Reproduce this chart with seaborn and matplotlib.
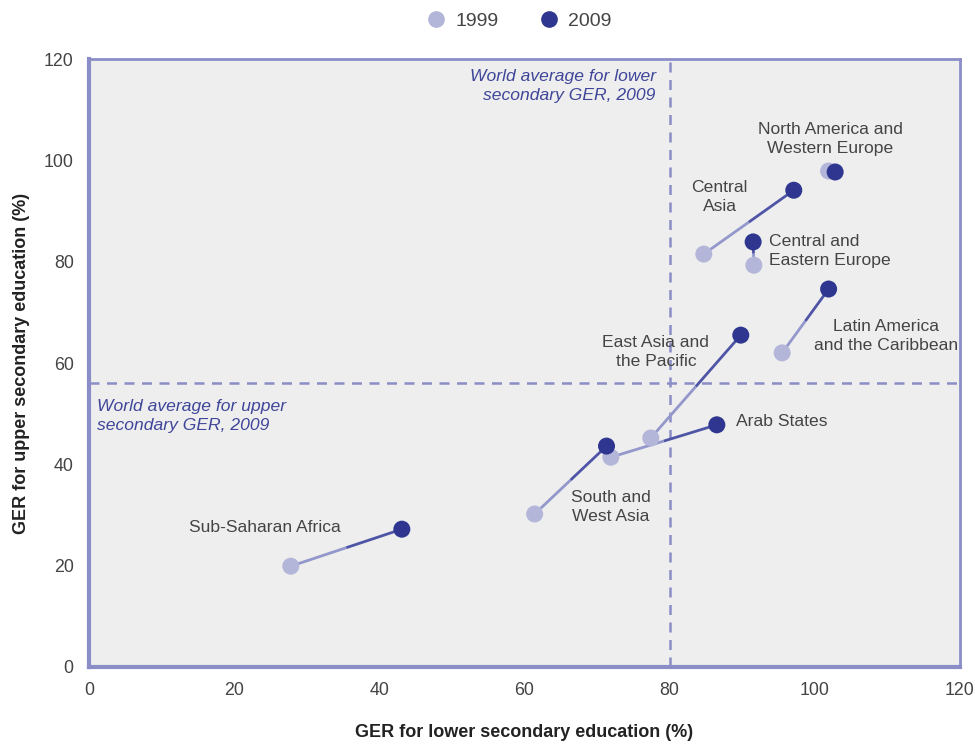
import numpy as np
import pandas as pd
import seaborn as sns
from matplotlib import pyplot as plt

# GER values
regions = ["Sub-Saharan Africa", "South and West Asia", "Arab States",
           "East Asia and the Pacific", "Latin America and the Caribbean",
           "Central and Eastern Europe", "Central Asia",
           "North America and Western Europe"]
lower_1999 = [27.8, 61.4, 71.9, 77.4, 95.5, 91.6, 84.7, 101.9]
upper_1999 = [19.9, 30.2, 41.4, 45.2, 62.0, 79.3, 81.5, 97.9]
lower_2009 = [43.1, 71.3, 86.5, 89.8, 101.9, 91.5, 97.1, 102.8]
upper_2009 = [27.2, 43.6, 47.8, 65.5, 74.6, 83.9, 94.1, 97.7]
world_lower_2009 = 80.0
world_upper_2009 = 56.0

# label text and placement per region
labels = ["Sub-Saharan Africa", "South and\nWest Asia", "Arab States",
          "East Asia and\nthe Pacific", "Latin America\nand the Caribbean",
          "Central and\nEastern Europe", "Central\nAsia",
          "North America and\nWestern Europe"]
label_x = [24.2, 71.9, 89.1, 78.1, 109.8, 93.7, 86.9, 102.1]
label_y = [27.6, 31.6, 48.5, 62.2, 65.3, 82.1, 92.8, 104.2]
label_ha = ["center", "center", "left", "center", "center", "left", "center", "center"]

LIGHT = "#b3b6d9"
DARK = "#2e368f"
AXIS = "#8b8ec6"
TEXT = "#444444"

df = pd.concat([
    pd.DataFrame({"region": regions, "lower": lower_1999, "upper": upper_1999, "year": "1999"}),
    pd.DataFrame({"region": regions, "lower": lower_2009, "upper": upper_2009, "year": "2009"}),
])

sns.set_style("white")
plt.rcParams['font.family'] = ['Liberation Sans', 'DejaVu Sans']

fig = plt.figure(figsize=(9.75, 7.47), dpi=100)
ax = fig.add_axes([0.0913, 0.1071, 0.8933, 0.8139])
ax.set_facecolor("#eeeeee")

# connecting lines 1999 -> 2009 (light to dark, two halves)
for i in range(len(regions)):
    x0, y0, x1, y1 = lower_1999[i], upper_1999[i], lower_2009[i], upper_2009[i]
    xm, ym = (x0 + x1) / 2, (y0 + y1) / 2
    ax.plot([x0, xm], [y0, ym], color="#9397cb", lw=2, zorder=2, solid_capstyle="butt")
    ax.plot([xm, x1], [ym, y1], color="#4f55a6", lw=2, zorder=2, solid_capstyle="butt")

ax.axvline(world_lower_2009, color=AXIS, lw=1.8, ls=(0, (4, 3)), zorder=1)
ax.axhline(world_upper_2009, color=AXIS, lw=1.8, ls=(0, (4, 3)), zorder=1)

sns.scatterplot(data=df, x="lower", y="upper", hue="year", palette={"1999": LIGHT, "2009": DARK},
                s=150, edgecolor="none", ax=ax, zorder=3, legend=False)

for lab, lx, ly, ha in zip(labels, label_x, label_y, label_ha):
    ax.text(lx, ly, lab, ha=ha, va="center", fontsize=12.6, color=TEXT, linespacing=1.3)

ax.text(78.1, 114.7, "World average for lower\nsecondary GER, 2009", ha="right", va="center",
        fontsize=12.6, style="italic", color="#3f4699", linespacing=1.3)
ax.text(1.1, 49.5, "World average for upper\nsecondary GER, 2009", ha="left", va="center",
        fontsize=12.6, style="italic", color="#3f4699", linespacing=1.3)

ax.set_xlim(0, 120)
ax.set_ylim(0, 120)
ax.set_xticks(np.arange(0, 121, 20))
ax.set_yticks(np.arange(0, 121, 20))
ax.tick_params(axis="both", colors=AXIS, labelcolor=TEXT, labelsize=12.8, length=6, width=2,
               direction="out")
ax.tick_params(axis="x", pad=5)
ax.tick_params(axis="y", pad=5)
for side in ["left", "bottom"]:
    ax.spines[side].set_color(AXIS)
    ax.spines[side].set_linewidth(3)
for side in ["top", "right"]:
    ax.spines[side].set_color(AXIS)
    ax.spines[side].set_linewidth(2)

ax.set_xlabel("GER for lower secondary education (%)", fontsize=13, fontweight="bold",
              color="#222222", labelpad=18)
ax.set_ylabel("GER for upper secondary education (%)", fontsize=13, fontweight="bold",
              color="#222222", labelpad=10)

handles = [plt.Line2D([], [], marker="o", ls="none", color=LIGHT, markersize=11),
           plt.Line2D([], [], marker="o", ls="none", color=DARK, markersize=11)]
fig.legend(handles, ["1999", "2009"], loc="center", bbox_to_anchor=(0.527, 0.972), ncol=2,
           frameon=False, fontsize=14, handletextpad=0.0, columnspacing=1.6,
           labelcolor=TEXT)

fig.savefig("out.png", dpi=100)
